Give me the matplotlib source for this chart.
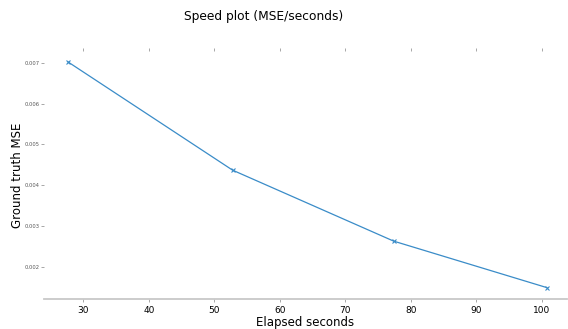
import matplotlib
matplotlib.use("Agg")
import matplotlib.pyplot as plt

# speed measurements
elapsed = [27.7, 52.8, 77.4, 100.8]
mse = [0.00702, 0.00437, 0.00263, 0.00149]

fig = plt.figure(figsize=(5.68, 3.29), dpi=100)
ax = fig.add_axes([0.0775, 0.091, 0.92, 0.755])

ax.plot(elapsed, mse, marker='x', markersize=3, markeredgewidth=0.8,
        color='#3a8cc8', linewidth=0.9)

for s in ['left', 'right', 'top']:
    ax.spines[s].set_visible(False)
ax.spines['bottom'].set_color('#c8c8c8')
ax.spines['bottom'].set_linewidth(1.3)

ax.tick_params(axis='x', top=True, bottom=True, direction='out', length=2,
               width=0.6, color='#999999', labelsize=6.5, pad=3)
ax.tick_params(axis='y', length=2, width=0.6, color='#999999', labelsize=3.7,
               pad=1.2, labelcolor='#555555')
ax.set_xticks([30, 40, 50, 60, 70, 80, 90, 100])
ax.set_yticks([0.002, 0.003, 0.004, 0.005, 0.006, 0.007])
ax.set_xlim(24.0, 103.8)
ax.set_ylim(0.00121, 0.00730)

ax.set_xlabel('Elapsed seconds', fontsize=8.5, labelpad=1)
ax.set_ylabel('Ground truth MSE', fontsize=8.5)
ax.yaxis.set_label_coords(-0.039, 0.5)
fig.text(0.465, 0.951, 'Speed plot (MSE/seconds)', fontsize=8.8, ha='center', va='center')

fig.savefig('out.png', dpi=100)
